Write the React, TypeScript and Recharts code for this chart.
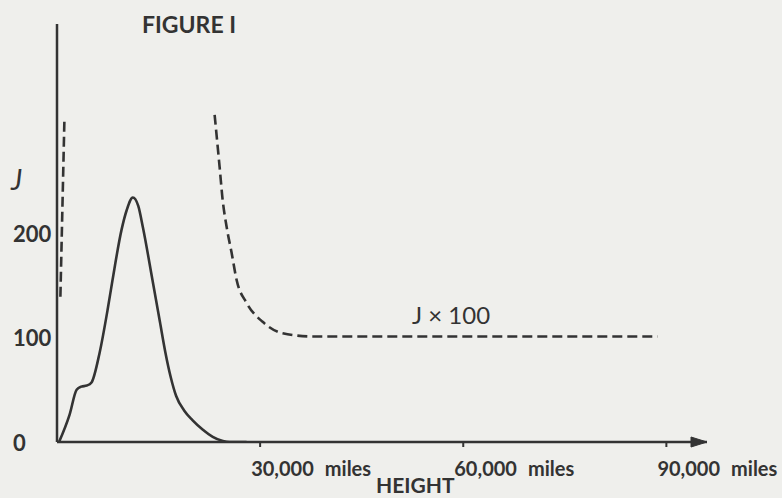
import React from 'react';
import { LineChart, Line, XAxis, YAxis, ReferenceDot } from 'recharts';

// Height in miles, J values
const solidHeights = [300, 1850, 2900, 3600, 4400, 5100, 6280, 7460, 8200, 9530, 10300, 11200, 12000, 12700, 14100, 15200, 16000, 16800, 17600, 18800, 20000, 21500, 23000, 24500, 25500, 28000];
const solidValues = [0, 26, 50, 53, 54, 57, 85, 126, 155, 203, 222, 234, 226, 205, 155, 115, 86, 62, 44, 30, 21, 12, 5, 1, 0, 0];

const nearHeights = [500, 1100];
const nearValues = [139, 310];

const scaledHeights = [23280, 24020, 24460, 25050, 25790, 26530, 28010, 30370, 33330, 37770, 50000, 65000, 80000, 88700];
const scaledValues = [313, 263, 232, 206, 181, 155, 133, 115, 104, 101, 101, 101, 101, 101];

const xTicks = [30000, 60000, 90000];
const xTickLabels = ['30,000', '60,000', '90,000'];
const yTicks = [0, 100, 200];

const INK = '#333333';
const BG = '#efefec';
const FONT = 'Lato, "Open Sans", sans-serif';

const toRows = (hs: number[], vs: number[]) => hs.map((h, i) => ({ h, v: vs[i] }));
const solid = toRows(solidHeights, solidValues);
const near = toRows(nearHeights, nearValues);
const scaled = toRows(scaledHeights, scaledValues);

const XTick = (props: any) => {
  const { x, y, payload } = props;
  const idx = xTicks.indexOf(payload.value);
  return (
    <text x={x - 9} y={y + 27} fill={INK} fontFamily={FONT} fontSize={20} fontWeight={700} textAnchor="start">
      {xTickLabels[idx]}
      <tspan dx={11}>miles</tspan>
    </text>
  );
};

const YTick = (props: any) => {
  const { y, payload } = props;
  return (
    <text x={13} y={y} fill={INK} fontFamily={FONT} fontSize={22} fontWeight={700} textAnchor="start" dominantBaseline="central">
      {String(payload.value)}
    </text>
  );
};

const Arrow = (props: any) => {
  const { cx, cy } = props;
  return <path d={`M${cx - 16},${cy - 5} L${cx},${cy} L${cx - 16},${cy + 5} Z`} fill={INK} stroke={INK} strokeWidth={1} />;
};

export default function App() {
  return (
    <div style={{ position: 'fixed', left: 0, top: 0, width: 782, height: 498, background: BG }}>
      <LineChart width={782} height={498} margin={{ top: 24, right: 75, bottom: 0, left: 0 }}>
        <XAxis
          type="number"
          dataKey="h"
          domain={[0, 96000]}
          ticks={xTicks}
          interval={0}
          height={56}
          allowDataOverflow
          axisLine={{ stroke: INK, strokeWidth: 2.5 }}
          tickLine={{ stroke: INK, strokeWidth: 2 }}
          tickSize={5}
          tick={<XTick />}
        />
        <YAxis
          type="number"
          domain={[0, 400]}
          ticks={yTicks}
          width={57}
          allowDataOverflow
          axisLine={{ stroke: INK, strokeWidth: 2.5 }}
          tickLine={false}
          tick={<YTick />}
        />
        <Line data={solid} dataKey="v" type="monotone" stroke={INK} strokeWidth={2.6} dot={false} isAnimationActive={false} />
        <Line data={near} dataKey="v" type="linear" stroke={INK} strokeWidth={2.6} strokeDasharray="10 5" dot={false} isAnimationActive={false} />
        <Line data={scaled} dataKey="v" type="monotone" stroke={INK} strokeWidth={2.6} strokeDasharray="10 5" dot={false} isAnimationActive={false} />
        <ReferenceDot x={96000} y={0} r={0} ifOverflow="visible" shape={Arrow} />
      </LineChart>
      <svg width={782} height={498} style={{ position: 'absolute', left: 0, top: 0, pointerEvents: 'none' }}>
        <text x={142} y={33} fill={INK} fontFamily={FONT} fontSize={23} fontWeight={700}>FIGURE I</text>
        <text x={11} y={190} fill={INK} fontFamily={FONT} fontSize={28} fontStyle="italic">J</text>
        <text x={412} y={324} fill={INK} fontFamily={FONT} fontSize={24}>J × 100</text>
        <text x={376} y={493} fill={INK} fontFamily={FONT} fontSize={21} fontWeight={700}>HEIGHT</text>
      </svg>
    </div>
  );
}
